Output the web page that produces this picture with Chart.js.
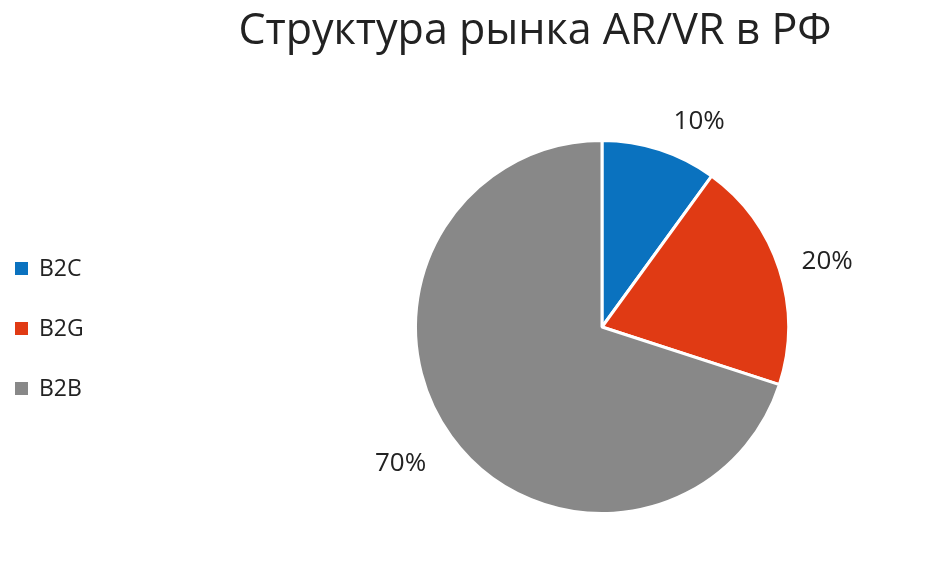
<!DOCTYPE html>
<html>
<head>
<meta charset="utf-8">
<script src="https://cdn.jsdelivr.net/npm/chart.js@4"></script>
<style>
  html, body { margin: 0; padding: 0; background: #fff; }
  #wrap { width: 945px; height: 565px; }
</style>
</head>
<body>
<div id="wrap"><canvas id="pieChart" width="945" height="565"></canvas></div>
<script>
var titleText = 'Структура рынка AR/VR в РФ';
var labels = ['B2C', 'B2G', 'B2B'];
var values = [10, 20, 70];
var colors = ['#0a72bf', '#e03a14', '#888888'];

// small nudges so the outside labels sit where Excel put them
var labelNudge = [[26, 21], [6, 13], [-15, 9]];

// title, legend on the left and the percent labels outside the slices
var extras = {
    id: 'extras',
    afterDraw: function (chart) {
        var c = chart.ctx;
        c.save();
        c.fillStyle = '#222';
        c.textAlign = 'center';
        c.textBaseline = 'alphabetic';
        c.font = '43px "Open Sans"';
        c.fillText(titleText, 535, 44);

        c.font = '23px "Open Sans"';
        c.textAlign = 'left';
        for (var i = 0; i < labels.length; i++) {
            var y = 268 + i * 60;
            c.fillStyle = colors[i];
            c.fillRect(15, y - 6, 13, 13);
            c.fillStyle = '#222';
            c.fillText(labels[i], 39, y + 8);
        }

        var meta = chart.getDatasetMeta(0);
        c.font = '26px "Open Sans"';
        c.textAlign = 'center';
        meta.data.forEach(function (arc, i) {
            var mid = (arc.startAngle + arc.endAngle) / 2;
            var r = arc.outerRadius + 44;
            var x = arc.x + Math.cos(mid) * r + labelNudge[i][0];
            var y = arc.y + Math.sin(mid) * r + labelNudge[i][1];
            c.fillStyle = '#222';
            c.fillText(values[i] + '%', x, y);
        });
        c.restore();
    }
};

var ctx = document.getElementById('pieChart').getContext('2d');
var myChart = new Chart(ctx, {
    type: 'pie',
    data: {
        labels: labels,
        datasets: [{
            data: values,
            backgroundColor: colors,
            borderColor: '#ffffff',
            borderWidth: 3
        }]
    },
    options: {
        responsive: false,
        animation: false,
        layout: {
            padding: { left: 414, right: 155, top: 139, bottom: 50 }
        },
        plugins: {
            legend: { display: false },
            title: { display: false },
            tooltip: { enabled: false }
        }
    },
    plugins: [extras]
});
</script>
</body>
</html>
